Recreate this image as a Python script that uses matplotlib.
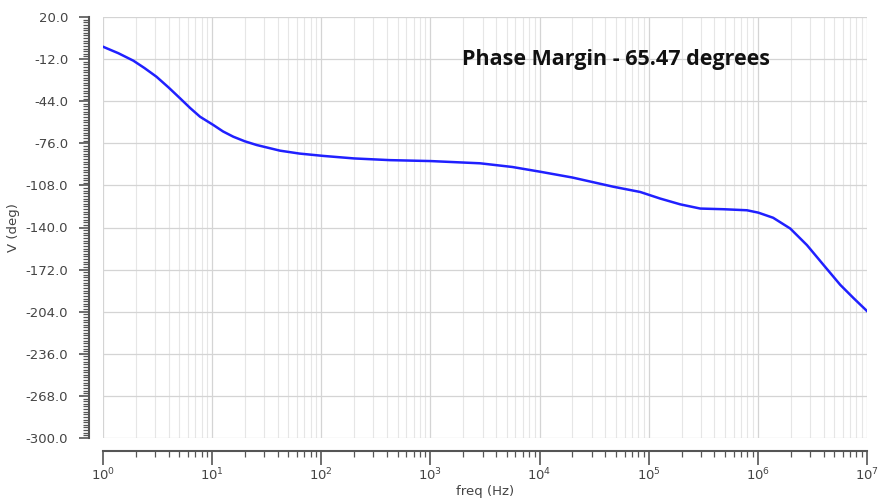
import matplotlib
matplotlib.use("Agg")
import matplotlib.pyplot as plt
import numpy as np
from matplotlib.ticker import LogLocator, MultipleLocator, FixedLocator, NullFormatter

# phase response (log10 of freq, degrees)
log_freq = [0.0, 0.14, 0.278, 0.38, 0.49, 0.6, 0.706, 0.8, 0.889, 1.011, 1.1, 1.194,
            1.3, 1.408, 1.622, 1.8, 2.02, 2.3, 2.63, 3.0, 3.455, 3.75, 4.005, 4.3,
            4.675, 4.922, 5.105, 5.289, 5.472, 5.683, 5.9, 6.004, 6.14, 6.297, 6.45,
            6.602, 6.755, 6.877, 7.0]
phase_deg = [-2.6, -7.5, -13.2, -18.8, -25.4, -33.5, -41.8, -49.3, -55.8, -62.1, -67, -71,
             -74.5, -77.3, -81.6, -83.8, -85.6, -87.5, -88.8, -89.5, -91.2, -94, -97.6, -102,
             -109, -113, -118, -122.4, -125.6, -126.1, -126.9, -128.7, -132.6, -140.8, -153.4,
             -168.5, -183.6, -193.7, -203.5]
y_ticks = [20.0, -12.0, -44.0, -76.0, -108.0, -140.0, -172.0, -204.0, -236.0, -268.0, -300.0]
x_decades = [0, 1, 2, 3, 4, 5, 6, 7]
note = "Phase Margin - 65.47 degrees"

freq = [10 ** v for v in log_freq]

fig = plt.figure(figsize=(8.82, 5.03), dpi=100)
ax = fig.add_axes([103 / 882, 65 / 503, 764 / 882, 421 / 503])

ax.plot(freq, phase_deg, color="#2020ff", linewidth=1.8)

ax.set_xscale("log")
ax.set_xlim(1, 1e7)
ax.set_ylim(-300, 20)

ax.yaxis.set_major_locator(FixedLocator(y_ticks))
ax.yaxis.set_minor_locator(MultipleLocator(2))
ax.set_yticklabels(["%.1f" % v for v in y_ticks])
ax.set_xticks([10.0 ** d for d in x_decades])
ax.set_xticklabels([r"$10^{%d}$" % d for d in x_decades])
ax.xaxis.set_minor_locator(LogLocator(base=10, subs=np.arange(2, 10), numticks=100))
ax.xaxis.set_minor_formatter(NullFormatter())
ax.yaxis.set_minor_formatter(NullFormatter())

# grid
ax.grid(which="major", color="#d4d4d4", linewidth=0.9)
ax.grid(which="minor", axis="x", color="#e6e6e6", linewidth=0.8)

# offset spines like the original tool
for s in ["top", "right"]:
    ax.spines[s].set_visible(False)
ax.spines["left"].set_position(("outward", 10))
ax.spines["bottom"].set_position(("outward", 9))
for s in ["left", "bottom"]:
    ax.spines[s].set_color("#555555")
    ax.spines[s].set_linewidth(1.5)

ax.tick_params(which="major", direction="out", length=7, width=1.2, color="#555555",
               labelsize=9.5, labelcolor="#444444")
ax.tick_params(which="minor", direction="out", length=4, width=0.9, color="#555555")
ax.tick_params(axis="y", which="major", pad=8)
ax.tick_params(axis="x", which="major", length=10, pad=2)

ax.set_xlabel("freq (Hz)", fontsize=9.5, color="#444444", labelpad=1)
ax.set_ylabel("V (deg)", fontsize=9.5, color="#444444", labelpad=4)

ax.text(0.671, 0.898, note, transform=ax.transAxes, ha="center", va="center",
        fontsize=15.5, fontweight="bold", family="Open Sans", color="#111111")

fig.savefig("out.png", dpi=100)
